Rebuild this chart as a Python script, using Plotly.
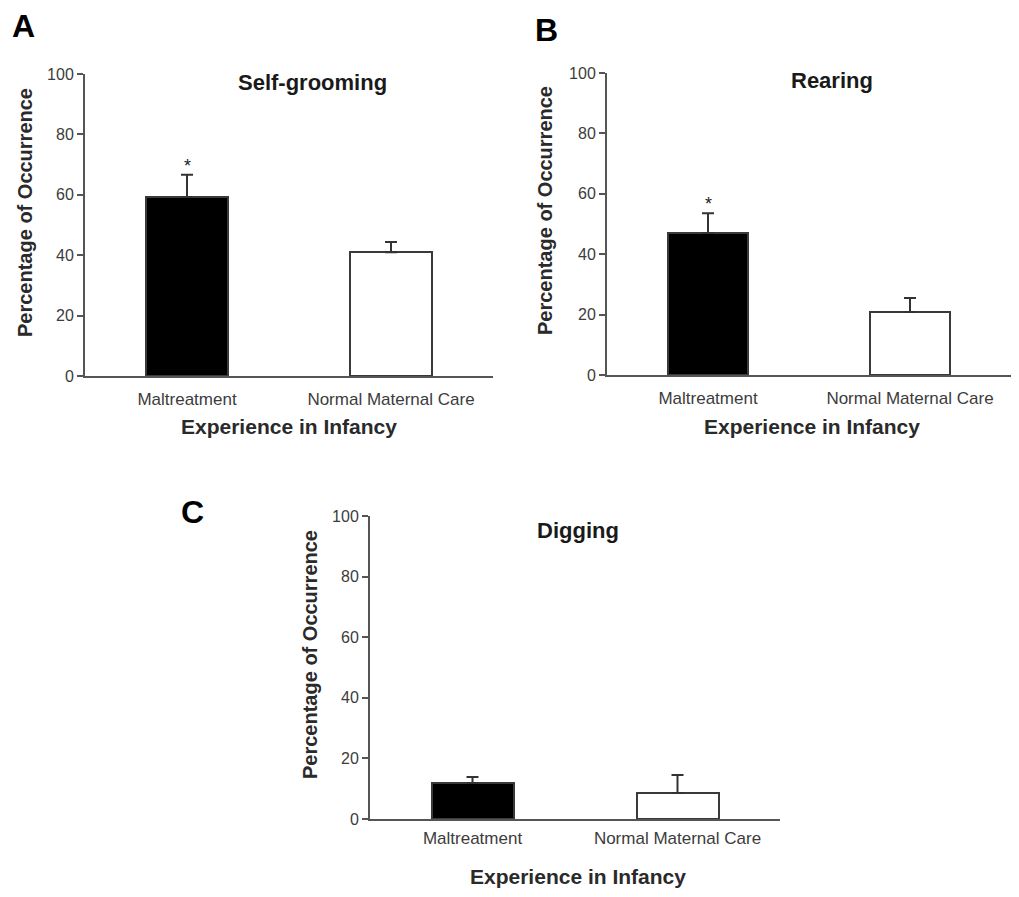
import plotly.graph_objects as go

# page body has an 8px margin; draw a figure that fits inside it
PAGE_W, PAGE_H = 1019, 897
OFF = 8
W, H = PAGE_W - 2 * OFF, PAGE_H - 2 * OFF

categories = ["Maltreatment", "Normal Maternal Care"]
panel_titles = ["Self-grooming", "Rearing", "Digging"]
panel_letters = ["A", "B", "C"]
means = [
    [59.3, 41.0],
    [47.0, 20.9],
    [11.9, 8.6],
]
sem = [
    [7.3, 3.4],
    [6.6, 4.6],
    [2.0, 5.9],
]
significant = [
    [True, False],
    [True, False],
    [False, False],
]
y_ticks = [0, 20, 40, 60, 80, 100]
x_title = "Experience in Infancy"
y_title = "Percentage of Occurrence"

# page-pixel layout of each panel
boxes = [(85, 493, 74, 376), (607, 1011, 73, 375), (370, 780, 516, 819)]  # l, r, t, b
letter_pos = [(24, 26), (546, 30), (192, 512)]
title_pos = [(312, 82), (832, 80), (578, 530)]
xtitle_pos = [(289, 426), (812, 426), (578, 876)]
ytitle_pos = [(25, 213), (545, 211), (310, 655)]
tick_standoff = [7, 7, 3]


def px_x(p):
    return (p - OFF) / W


def px_y(p):
    return 1 - (p - OFF) / H


fig = go.Figure()
FONT = "Liberation Sans, Arial, sans-serif"
axcol = "#555555"

for i in range(3):
    xa = "x" if i == 0 else f"x{i+1}"
    ya = "y" if i == 0 else f"y{i+1}"
    fig.add_trace(go.Bar(
        x=categories, y=means[i],
        xaxis=xa, yaxis=ya,
        width=0.4,
        marker=dict(color=["black", "white"], line=dict(color="#3a3a3a", width=2)),
        error_y=dict(type="data", symmetric=False, array=sem[i], arrayminus=[0, 0],
                     color="#333333", thickness=2, width=6),
        showlegend=False,
    ))
    l, r, t, b = boxes[i]
    xkey = "xaxis" if i == 0 else f"xaxis{i+1}"
    ykey = "yaxis" if i == 0 else f"yaxis{i+1}"
    fig.update_layout(**{
        xkey: dict(domain=[px_x(l), px_x(r)], anchor=ya, range=[-0.5, 1.5], showline=True,
                   linecolor=axcol, linewidth=2, ticks="", showgrid=False,
                   automargin=False, ticklabelstandoff=tick_standoff[i],
                   tickfont=dict(family=FONT, size=17, color="#3c3c3c")),
        ykey: dict(domain=[px_y(b), px_y(t)], anchor=xa, range=[0, 100], showline=True,
                   linecolor=axcol, linewidth=2, ticks="outside", ticklen=6,
                   tickwidth=1.5, tickcolor=axcol, tickvals=y_ticks, showgrid=False,
                   zeroline=False, automargin=False,
                   tickfont=dict(family=FONT, size=16, color="#3c3c3c")),
    })
    # panel title
    tx, ty = title_pos[i]
    fig.add_annotation(x=px_x(tx), y=px_y(ty), xref="paper", yref="paper",
                       text=f"<b>{panel_titles[i]}</b>", showarrow=False,
                       xanchor="center", yanchor="middle",
                       font=dict(family=FONT, size=22, color="#1a1a1a"))
    # x axis title
    tx, ty = xtitle_pos[i]
    fig.add_annotation(x=px_x(tx), y=px_y(ty), xref="paper", yref="paper",
                       text=f"<b>{x_title}</b>", showarrow=False,
                       xanchor="center", yanchor="middle",
                       font=dict(family=FONT, size=21, color="#2a2a2a"))
    # y axis title
    tx, ty = ytitle_pos[i]
    fig.add_annotation(x=px_x(tx), y=px_y(ty), xref="paper", yref="paper",
                       text=f"<b>{y_title}</b>", showarrow=False, textangle=-90,
                       xanchor="center", yanchor="middle",
                       font=dict(family=FONT, size=20, color="#2a2a2a"))
    # panel letter
    lx, ly = letter_pos[i]
    fig.add_annotation(x=px_x(lx), y=px_y(ly), xref="paper", yref="paper",
                       text=f"<b>{panel_letters[i]}</b>", showarrow=False,
                       xanchor="center", yanchor="middle",
                       font=dict(family=FONT, size=32, color="black"))
    # significance stars
    for j, cat in enumerate(categories):
        if significant[i][j]:
            fig.add_annotation(x=cat, y=means[i][j] + sem[i][j], xref=xa, yref=ya,
                               text="*", showarrow=False, xanchor="center",
                               yanchor="bottom", yshift=-3,
                               font=dict(family=FONT, size=18, color="#222222"))

fig.update_layout(width=W, height=H, margin=dict(l=0, r=0, t=0, b=0, autoexpand=False),
                  plot_bgcolor="white", paper_bgcolor="white", bargap=0)

fig.write_html("out.html")
